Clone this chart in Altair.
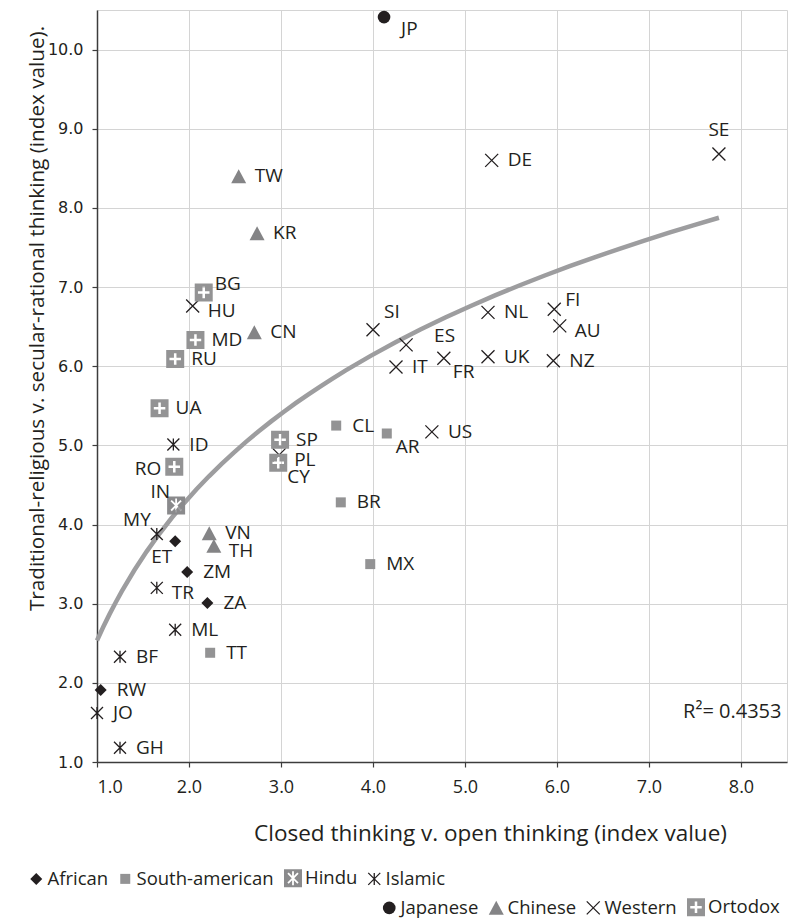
import math
import altair as alt
import pandas as pd

# ------------------------------------------------------------------ data
codes = ["JP",
         "TW", "KR", "CN", "VN", "TH",
         "DE", "SE", "HU", "SI", "ES", "IT", "FR", "NL", "UK", "FI", "AU", "NZ", "US", "PL",
         "BG", "MD", "RU", "UA", "RO", "SP", "CY",
         "IN",
         "ID", "MY", "TR", "ML", "BF", "JO", "GH",
         "ET", "ZM", "ZA", "RW",
         "CL", "AR", "BR", "MX", "TT"]
closed_open = [4.12,
               2.54, 2.74, 2.71, 2.22, 2.27,
               5.29, 7.76, 2.04, 4.00, 4.36, 4.25, 4.77, 5.25, 5.25, 5.97, 6.03, 5.96, 4.64, 2.98,
               2.16, 2.07, 1.85, 1.68, 1.84, 2.99, 2.97,
               1.86,
               1.83, 1.65, 1.65, 1.85, 1.25, 1.00, 1.25,
               1.85, 1.98, 2.20, 1.04,
               3.60, 4.15, 3.65, 3.97, 2.23]
trad_secular = [10.41,
                8.40, 7.68, 6.43, 3.89, 3.73,
                8.60, 8.68, 6.76, 6.46, 6.27, 5.99, 6.10, 6.68, 6.12, 6.72, 6.51, 6.07, 5.17, 4.88,
                6.93, 6.33, 6.09, 5.47, 4.73, 5.07, 4.78,
                4.24,
                5.01, 3.88, 3.20, 2.67, 2.33, 1.62, 1.18,
                3.79, 3.40, 3.01, 1.91,
                5.25, 5.15, 4.28, 3.50, 2.38]
groups = (["Japanese"] + ["Chinese"] * 5 + ["Western"] * 14 + ["Ortodox"] * 7 +
          ["Hindu"] + ["Islamic"] * 7 + ["African"] * 4 + ["South-american"] * 5)
label_place = ["r_dn",
               "r", "r", "r", "r", "r_lo",
               "r", "up", "r_lo", "up_r", "far_up", "r", "dn_r", "r", "r", "r_up", "r_lo", "r", "r", "r_lo",
               "r_up", "r", "r", "r", "l", "r", "dn_r",
               "up_l",
               "r", "up_l", "r_lo", "r", "r", "r", "r",
               "dn_l", "r", "r", "r",
               "r", "dn_r", "r", "r", "r"]

legend_row1 = ["African", "South-american", "Hindu", "Islamic"]
legend_row2 = ["Japanese", "Chinese", "Western", "Ortodox"]
x_ticks = [1, 2, 3, 4, 5, 6, 7, 8]
y_ticks = [1, 2, 3, 4, 5, 6, 7, 8, 9, 10]
r_squared_text = "R\u00b2= 0.4353"
x_title = "Closed thinking v. open thinking (index value)"
y_title = "Traditional-religious v. secular-rational thinking (index value)."

df = pd.DataFrame({"code": codes, "x": closed_open, "y": trad_secular,
                   "group": groups, "place": label_place})

# ------------------------------------------------------------------ styles
INK = "#231f20"
GREY = "#939394"
TRI_GREY = "#848486"
GRID = "#d4d4d4"
LABEL_FONT = "Open Sans"


def pts_path(pts):
    return "M" + "L".join(f"{x:.3f},{y:.3f}" for x, y in pts) + "Z"


SQUARE = "M-1,-1L1,-1L1,1L-1,1Z"
DIAMOND = "M0,-1L1,0L0,1L-1,0Z"
TRIANGLE = "M0,-0.93L1,0.93L-1,0.93Z"
CROSS = "M-1,-1L1,1M-1,1L1,-1"
ASTER = "M-1,-1L1,1M-1,1L1,-1M0,-1L0,1"


def plus_hole(w, L):
    p = [(-w, -L), (-w, -w), (-L, -w), (-L, w), (-w, w), (-w, L),
         (w, L), (w, w), (L, w), (L, -w), (w, -w), (w, -L)]
    return pts_path(p)


def star_hole(angles, w, L):
    angs = sorted(angles)
    n = len(angs)
    p = []
    for i, a in enumerate(angs):
        t = math.radians(a)
        d = (math.cos(t), math.sin(t))
        nr = (-math.sin(t), math.cos(t))
        p.append((L * d[0] - w * nr[0], L * d[1] - w * nr[1]))
        p.append((L * d[0] + w * nr[0], L * d[1] + w * nr[1]))
        b = angs[(i + 1) % n] + (360 if i == n - 1 else 0)
        gap = math.radians(b - a)
        mid = math.radians((a + b) / 2)
        r = w / math.sin(gap / 2)
        p.append((r * math.cos(mid), r * math.sin(mid)))
    p.reverse()
    return pts_path(p)


ORTODOX = SQUARE + plus_hole(0.14, 0.64)
HINDU = SQUARE + star_hole([-135, -90, -45, 45, 90, 135], 0.1, 0.78)

style = {
    "African": (DIAMOND, INK, "transparent", 12),
    "South-american": (SQUARE, GREY, "transparent", 10),
    "Hindu": (HINDU, "#8a8a8c", "transparent", 18),
    "Islamic": (ASTER, "transparent", INK, 12),
    "Japanese": ("circle", INK, "transparent", 12.7),
    "Chinese": (TRIANGLE, TRI_GREY, "transparent", 15),
    "Western": (CROSS, "transparent", INK, 13),
    "Ortodox": (ORTODOX, GREY, "transparent", 18),
}

x_scale = alt.Scale(domain=[1, 8.5], nice=False, zero=False)
y_scale = alt.Scale(domain=[1, 10.5], nice=False, zero=False)

x_axis = alt.Axis(values=x_ticks, format=".1f", title=x_title,
                  grid=True, gridColor=GRID, gridWidth=1,
                  domainColor="#3c3c3c", domainWidth=1.5,
                  tickColor="#3c3c3c", tickSize=5, tickWidth=1.2,
                  labelFont=LABEL_FONT, labelFontSize=18, labelColor=INK, labelPadding=11,
                  titleFont=LABEL_FONT, titleFontSize=22.5, titleFontWeight="normal",
                  titleColor=INK, titleX=393, titleY=71, titleBaseline="middle",
                  titleAlign="center")
y_axis = alt.Axis(values=y_ticks, format=".1f", title=y_title,
                  grid=True, gridColor=GRID, gridWidth=1,
                  domainColor="#3c3c3c", domainWidth=1.5,
                  tickColor="#3c3c3c", tickSize=5, tickWidth=1.2,
                  labelFont="DejaVu Sans", labelFontSize=16, labelColor=INK, labelPadding=9,
                  titleFont=LABEL_FONT, titleFontSize=20.7, titleFontWeight="normal",
                  titleColor=INK, titleX=-60, titleY=308, titleBaseline="middle",
                  titleAlign="center", titleAngle=270)

X = alt.X("x:Q", scale=x_scale, axis=x_axis)
Y = alt.Y("y:Q", scale=y_scale, axis=y_axis)

base = alt.Chart(df)

trend = base.transform_regression("x", "y", method="log").mark_line(
    color="#9d9d9f", strokeWidth=4.5).encode(x=X, y=Y)


def point_layer(domain, lx, ly):
    leg = alt.Legend(title=None, orient="none", legendX=lx, legendY=ly,
                     direction="horizontal", labelFont=LABEL_FONT, labelFontSize=18.5,
                     labelColor=INK, columnPadding=7, labelOffset=2, padding=0,
                     symbolStrokeWidth=1.3)
    shapes = [style[g][0] for g in domain]
    fills = [style[g][1] for g in domain]
    strokes = [style[g][2] for g in domain]
    sizes = [style[g][3] ** 2 for g in domain]
    return base.transform_filter(
        alt.FieldOneOfPredicate(field="group", oneOf=domain)
    ).mark_point(opacity=1, strokeWidth=1.3).encode(
        x=X, y=Y,
        shape=alt.Shape("group:N", scale=alt.Scale(domain=domain, range=shapes), legend=leg),
        fill=alt.Fill("group:N", scale=alt.Scale(domain=domain, range=fills), legend=leg),
        stroke=alt.Stroke("group:N", scale=alt.Scale(domain=domain, range=strokes), legend=leg),
        size=alt.Size("group:N", scale=alt.Scale(type="ordinal", domain=domain, range=sizes), legend=leg),
    )


points_a = point_layer(legend_row1, -70, 858)
points_b = point_layer(legend_row2, 283, 887)

placements = {
    "r": (16, 0, "left"),
    "r_lo": (15, 5, "left"),
    "r_dn": (17, 12, "left"),
    "r_up": (11, -9, "left"),
    "up_r": (11, -18, "left"),
    "far_up": (28, -9, "left"),
    "dn_r": (9, 14, "left"),
    "up": (0, -24, "center"),
    "l": (-13, 2, "right"),
    "up_l": (-6, -14, "right"),
    "dn_l": (-3, 16, "right"),
}

label_layers = []
for key, (dx, dy, align) in placements.items():
    label_layers.append(
        base.transform_filter(alt.datum.place == key).mark_text(
            align=align, baseline="middle", dx=dx, dy=dy,
            font=LABEL_FONT, fontSize=19, color=INK
        ).encode(x=X, y=Y, text="code:N")
    )

r2 = alt.Chart(pd.DataFrame({"t": [r_squared_text]})).mark_text(
    align="right", baseline="middle", font=LABEL_FONT, fontSize=20, color=INK
).encode(x=alt.datum(8.44, scale=x_scale), y=alt.datum(1.63, scale=y_scale), text="t:N")

chart = alt.layer(trend, points_a, points_b, *label_layers, r2).resolve_scale(
    shape="independent", fill="independent", stroke="independent", size="independent"
).properties(
    width=690, height=752,
    autosize=alt.AutoSizeParams(type="none"),
    padding={"left": 97, "top": 10, "right": 11, "bottom": 159},
    background="white",
).configure_view(stroke=GRID, strokeWidth=1)

chart.save("out.html", embed_options={"renderer": "svg", "actions": False})
